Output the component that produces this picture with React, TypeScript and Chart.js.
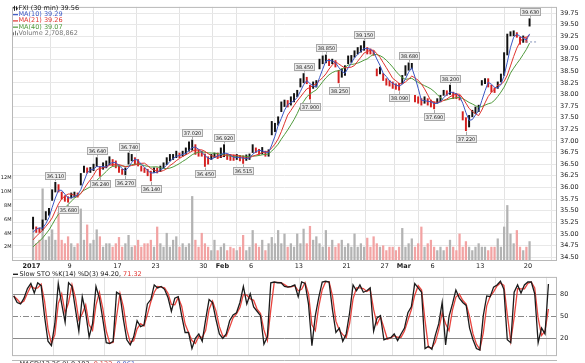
import React, { useEffect, useRef } from "react";
import { Chart, registerables } from "chart.js";

Chart.register(...registerables);

const FONT = '"DejaVu Sans", Verdana, sans-serif';
const BARS_PER_DAY = 3;

// date axis: trading-day index of each labelled day
const tickDays = [0, 4, 9, 13, 18, 20, 23, 28, 33, 37, 39, 42, 47, 52];
const tickLabels = ["2017", "9", "17", "23", "30", "Feb", "6", "13", "21", "27", "Mar", "6", "13", "20"];
const boldLabels = ["2017", "Feb", "Mar"];
const priceTicks = [34.5, 34.75, 35, 35.25, 35.5, 35.75, 36, 36.25, 36.5, 36.75, 37, 37.25, 37.5, 37.75, 38, 38.25, 38.5, 38.75, 39, 39.25, 39.5, 39.75];
const volumeTicks = [2, 4, 6, 8, 10, 12];
const stochTicks = [20, 50, 80];

// late-December midpoints (feed the moving averages at the left edge)
const priorMids = [34.45, 34.5, 34.5, 34.55, 34.6, 34.7, 34.8, 34.9, 34.98];

// price bars (3 per trading day), low / high
const barLow = [
  35.10, 35.03, 35.03, 35.08, 35.30, 35.40, 35.72, 35.90, 35.90, 35.75,
  35.70, 35.68, 35.77, 35.79, 35.79, 36.05, 36.32, 36.31, 36.32, 36.36,
  36.45, 36.24, 36.39, 36.42, 36.49, 36.46, 36.42, 36.32, 36.28, 36.27,
  36.50, 36.57, 36.49, 36.46, 36.35, 36.32, 36.25, 36.14, 36.32, 36.31,
  36.34, 36.42, 36.49, 36.57, 36.60, 36.64, 36.64, 36.67, 36.71, 36.78,
  36.80, 36.71, 36.67, 36.67, 36.45, 36.50, 36.60, 36.64, 36.62, 36.64,
  36.66, 36.60, 36.58, 36.58, 36.60, 36.57, 36.515, 36.58, 36.60, 36.75,
  36.75, 36.71, 36.72, 36.67, 36.67, 37.13, 37.20, 37.34, 37.63, 37.74,
  37.73, 37.77, 37.84, 37.95, 38.16, 38.25, 38.23, 37.90, 38.13, 38.16,
  38.55, 38.66, 38.68, 38.62, 38.66, 38.59, 38.25, 38.37, 38.41, 38.66,
  38.69, 38.80, 38.87, 38.91, 38.95, 38.87, 38.87, 38.84, 38.40, 38.44,
  38.30, 38.20, 38.18, 38.13, 38.11, 38.09, 38.23, 38.41, 38.52, 38.55,
  37.84, 37.81, 37.77, 37.81, 37.77, 37.73, 37.69, 37.81, 37.84, 37.98,
  37.98, 38.00, 37.91, 37.91, 37.88, 37.45, 37.22, 37.30, 37.52, 37.59,
  37.63, 38.20, 38.23, 38.16, 38.05, 38.04, 38.13, 38.27, 38.41, 38.85,
  39.26, 39.26, 39.23, 39.08, 39.12, 39.12, 39.47,
];
const barHigh = [
  35.36, 35.15, 35.12, 35.30, 35.48, 35.55, 35.95, 36.11, 36.06, 35.90,
  35.82, 35.80, 35.88, 35.90, 35.88, 36.30, 36.46, 36.42, 36.43, 36.50,
  36.64, 36.45, 36.53, 36.57, 36.66, 36.60, 36.57, 36.46, 36.39, 36.42,
  36.74, 36.71, 36.64, 36.60, 36.46, 36.42, 36.39, 36.35, 36.42, 36.42,
  36.46, 36.53, 36.64, 36.71, 36.71, 36.78, 36.74, 36.78, 36.85, 36.98,
  37.02, 36.92, 36.81, 36.78, 36.72, 36.66, 36.71, 36.74, 36.74, 36.85,
  36.92, 36.71, 36.71, 36.70, 36.71, 36.69, 36.68, 36.70, 36.72, 36.92,
  36.85, 36.82, 36.86, 36.78, 36.81, 37.42, 37.38, 37.52, 37.84, 37.88,
  37.87, 37.95, 38.02, 38.09, 38.34, 38.45, 38.37, 38.20, 38.27, 38.30,
  38.76, 38.83, 38.85, 38.76, 38.76, 38.73, 38.52, 38.55, 38.62, 38.83,
  38.84, 38.94, 39.01, 39.05, 39.15, 39.01, 38.98, 38.94, 38.55, 38.59,
  38.45, 38.34, 38.30, 38.27, 38.23, 38.24, 38.41, 38.62, 38.68, 38.67,
  37.98, 37.95, 37.91, 37.95, 37.91, 37.88, 37.84, 37.91, 37.98, 38.09,
  38.08, 38.20, 38.05, 38.02, 37.98, 37.63, 37.50, 37.55, 37.66, 37.73,
  37.77, 38.30, 38.34, 38.34, 38.20, 38.14, 38.27, 38.44, 38.90, 39.30,
  39.35, 39.37, 39.33, 39.23, 39.26, 39.22, 39.63,
];

// volume per bar, millions of shares
const volumeM = [
  4.4, 2.5, 3.0, 10.4, 3.0, 3.5, 4.5, 3.0, 7.0, 3.0,
  2.5, 3.5, 2.5, 2.0, 2.5, 7.5, 3.0, 5.2, 2.5, 3.0,
  4.5, 3.5, 2.0, 2.5, 2.5, 2.0, 2.5, 3.4, 2.0, 2.5,
  3.7, 2.0, 2.2, 3.0, 2.0, 2.5, 2.5, 3.0, 2.0, 4.9,
  2.5, 2.0, 4.0, 2.0, 3.0, 3.5, 2.0, 2.5, 2.0, 2.5,
  9.3, 3.0, 2.0, 4.0, 2.5, 2.0, 1.5, 3.0, 1.5, 2.0,
  2.5, 1.5, 2.0, 1.8, 1.5, 2.0, 3.7, 1.5, 2.0, 4.4,
  2.5, 2.0, 3.0, 1.5, 2.5, 3.4, 2.5, 4.4, 2.5, 3.9,
  2.0, 2.5, 2.0, 3.9, 2.5, 4.6, 2.5, 5.0, 3.0, 3.5,
  2.5, 2.0, 4.4, 2.0, 3.0, 2.0, 2.5, 3.0, 2.0, 2.5,
  2.0, 3.9, 2.0, 2.5, 2.0, 3.3, 2.0, 3.5, 2.5, 2.0,
  2.2, 1.5, 2.0, 2.0, 1.5, 2.0, 4.7, 2.0, 2.5, 3.2,
  2.0, 2.5, 4.9, 2.0, 2.5, 3.0, 2.0, 1.5, 2.0, 1.5,
  2.0, 3.0, 2.0, 1.5, 3.9, 2.0, 2.8, 2.0, 1.5, 2.0,
  2.5, 2.0, 2.0, 1.5, 2.0, 2.0, 3.2, 2.0, 4.9, 8.0,
  3.9, 2.5, 4.4, 2.0, 1.5, 2.0, 2.8,
];

// slow stochastic %K per bar
const stochK = [
  78, 69, 67, 75, 88, 95, 82, 96, 92, 50,
  16, 10, 40, 95, 67, 42, 96, 91, 60, 30,
  77, 55, 22, 40, 91, 75, 46, 14, 13, 16,
  83, 80, 46, 18, 11, 22, 44, 36, 38, 67,
  73, 93, 89, 91, 87, 76, 57, 75, 77, 51,
  28, 28, 6, 20, 26, 16, 46, 73, 69, 46,
  26, 20, 26, 44, 52, 55, 69, 91, 67, 81,
  63, 57, 51, 12, 22, 96, 97, 96, 96, 91,
  90, 91, 93, 77, 97, 95, 67, 10, 51, 76,
  97, 98, 97, 59, 28, 34, 16, 26, 55, 93,
  85, 93, 83, 85, 89, 30, 48, 51, 18, 20,
  21, 26, 17, 26, 34, 55, 63, 95, 89, 83,
  6, 9, 5, 24, 40, 69, 11, 50, 67, 86,
  75, 69, 65, 34, 18, 6, 4, 51, 78, 77,
  90, 93, 98, 87, 18, 14, 83, 93, 82, 93,
  97, 97, 81, 14, 34, 26, 94.2,
];

const prevClose = 39.13;

// annotated swing highs / lows
const peakIndex = [7, 11, 20, 21, 29, 30, 37, 50, 54, 60, 66, 85, 87, 92, 96, 104, 115, 118, 126, 131, 136, 156];
const peakText = ["36.110", "35.680", "36.640", "36.240", "36.270", "36.740", "36.140", "37.020", "36.450", "36.920", "36.515", "38.450", "37.900", "38.850", "38.250", "39.150", "38.090", "38.680", "37.690", "38.200", "37.220", "39.630"];
const peakKind = ["hi", "lo", "hi", "lo", "lo", "hi", "lo", "hi", "lo", "hi", "lo", "hi", "lo", "hi", "lo", "hi", "lo", "hi", "lo", "hi", "lo", "hi"];

const legendText = ["FXI (30 min) 39.56", "MA(10) 39.29", "MA(21) 39.26", "MA(40) 39.07", "Volume 2,708,862"];
const stochLegend = ["Slow STO %K(14) %D(3) 94.20, ", "71.32"];
const macdLegend = ["MACD(12,26,9) 0.183, ", "0.122, ", "0.061"];

const BLUE = "#3b57c4";
const RED = "#e0332e";
const GREEN = "#4f9a3c";

function barX(i: number) {
  return Math.floor(i / BARS_PER_DAY) + ((i % BARS_PER_DAY) + 0.5) / BARS_PER_DAY;
}

function movingAverage(values: number[], prior: number[], w: number) {
  const all = prior.concat(values);
  const P = prior.length;
  return values.map((_, i) => {
    let s = 0;
    for (let j = i + P - w + 1; j <= i + P; j++) s += all[j];
    return s / w;
  });
}

const mids = barLow.map((lo, i) => (lo + barHigh[i]) / 2);
const upBar = mids.map((m, i) => m >= (i === 0 ? priorMids[priorMids.length - 1] : mids[i - 1]));

function dateAxis(showLabels: boolean, height: number) {
  return {
    type: "linear" as const,
    min: 0,
    max: 53,
    position: "bottom" as const,
    afterBuildTicks: (s: any) => {
      s.ticks = tickDays.map((v) => ({ value: v }));
    },
    afterFit: (s: any) => {
      s.height = height;
    },
    grid: { color: "#e3e3e3", drawTicks: false, lineWidth: 1 },
    border: { display: false },
    ticks: {
      display: showLabels,
      autoSkip: false,
      maxRotation: 0,
      padding: 1,
      color: "#222",
      font: (ctx: any) => {
        const lbl = ctx.tick ? tickLabels[tickDays.indexOf(ctx.tick.value)] : "";
        return { family: FONT, size: 6.5, weight: boldLabels.includes(lbl) ? "bold" : "normal" };
      },
      callback: (v: any) => {
        const k = tickDays.indexOf(Number(v));
        return k >= 0 ? tickLabels[k] : "";
      },
    },
  };
}

const mainOverlay = {
  id: "mainOverlay",
  afterDatasetsDraw(chart: any) {
    const { ctx, scales } = chart;
    const xs = scales.x;
    const ps = scales.price;
    ctx.save();
    ctx.font = `5px ${FONT}`;
    ctx.textAlign = "center";
    ctx.textBaseline = "middle";
    ctx.lineWidth = 1;
    peakIndex.forEach((idx, k) => {
      const px = xs.getPixelForValue(barX(idx));
      const val = parseFloat(peakText[k]);
      const py = ps.getPixelForValue(val);
      const w = Math.round(ctx.measureText(peakText[k]).width + 3);
      const h = 7;
      const hi = peakKind[k] === "hi";
      const top = Math.round(hi ? py - 3.5 - h : py + 4);
      const left = Math.round(px - w / 2);
      ctx.strokeStyle = "#a8a8a8";
      ctx.beginPath();
      const cx = Math.round(px) + 0.5;
      ctx.moveTo(cx, hi ? top + h : top);
      ctx.lineTo(cx, hi ? py - 1 : py + 1);
      ctx.stroke();
      ctx.fillStyle = "#ededed";
      ctx.fillRect(left + 0.5, top + 0.5, w, h);
      ctx.strokeRect(left + 0.5, top + 0.5, w, h);
      ctx.fillStyle = "#222";
      ctx.fillText(peakText[k], left + 0.5 + w / 2, top + 0.5 + h / 2 + 0.3);
    });
    ctx.restore();
  },
  afterDraw(chart: any) {
    const { ctx, chartArea: a } = chart;
    ctx.save();
    ctx.strokeStyle = "#b8b8b8";
    ctx.lineWidth = 1;
    ctx.strokeRect(a.left + 0.5, a.top + 0.5, a.right - a.left - 1, a.bottom - a.top - 1);
    ctx.font = `6.5px ${FONT}`;
    ctx.textBaseline = "middle";
    ctx.textAlign = "left";
    const colors = ["#222", BLUE, RED, GREEN, "#777"];
    legendText.forEach((t, k) => {
      const y = 8.3 + k * 6.25;
      ctx.fillStyle = colors[k];
      ctx.strokeStyle = colors[k];
      if (k === 0) {
        ctx.fillRect(14, y - 2.5, 1, 5);
        ctx.fillRect(16, y - 2, 1, 4);
        ctx.fillRect(13, y - 1, 1, 1);
        ctx.fillRect(17, y, 1, 1);
      } else if (k === 4) {
        ctx.fillRect(13, y - 1, 1, 3);
        ctx.fillRect(15, y - 2.5, 1, 4.5);
        ctx.fillRect(17, y - 0.5, 1, 2.5);
      } else {
        ctx.fillRect(13, y - 0.5, 5, 1.2);
      }
      ctx.fillText(t, 18.5, y);
    });
    ctx.restore();
  },
};

const stochOverlay = {
  id: "stochOverlay",
  beforeDatasetsDraw(chart: any) {
    const { ctx, chartArea: a, scales } = chart;
    const ys = scales.y;
    ctx.save();
    ctx.lineWidth = 1;
    stochTicks.forEach((v) => {
      const y = Math.round(ys.getPixelForValue(v)) + 0.5;
      ctx.strokeStyle = "#8a8a8a";
      ctx.setLineDash(v === 50 ? [6, 2, 1, 2] : []);
      ctx.beginPath();
      ctx.moveTo(a.left, y);
      ctx.lineTo(a.right, y);
      ctx.stroke();
    });
    ctx.restore();
  },
  afterDraw(chart: any) {
    const { ctx, chartArea: a } = chart;
    ctx.save();
    ctx.strokeStyle = "#b8b8b8";
    ctx.lineWidth = 1;
    ctx.strokeRect(a.left + 0.5, a.top + 0.5, a.right - a.left - 1, a.bottom - a.top - 1);
    ctx.font = `6.5px ${FONT}`;
    ctx.textBaseline = "middle";
    ctx.textAlign = "left";
    const y = 4.2;
    ctx.fillStyle = "#222";
    ctx.fillRect(13, y - 0.6, 5, 1.4);
    ctx.fillText(stochLegend[0], 19.5, y);
    const w0 = ctx.measureText(stochLegend[0]).width;
    ctx.fillStyle = RED;
    ctx.fillText(stochLegend[1], 19.5 + w0, y);
    // next panel (cut off by the picture edge)
    ctx.beginPath();
    ctx.moveTo(a.left, 90.5);
    ctx.lineTo(a.right, 90.5);
    ctx.stroke();
    ctx.textBaseline = "top";
    const yb = 91.2;
    ctx.fillStyle = "#222";
    ctx.fillRect(13, yb + 2.5, 5, 1.4);
    let x = 19.5;
    const mc = ["#222", RED, BLUE];
    macdLegend.forEach((t, k) => {
      ctx.fillStyle = mc[k];
      ctx.fillText(t, x, yb);
      x += ctx.measureText(t).width;
    });
    ctx.restore();
  },
};

function mainConfig(): any {
  const ma10 = movingAverage(mids, priorMids, 3);
  const ma21 = movingAverage(mids, priorMids, 6);
  const ma40 = movingAverage(mids, priorMids, 10);
  const line = (vals: number[], color: string, order: number) => ({
    type: "line",
    data: vals.map((v, i) => ({ x: barX(i), y: v })),
    borderColor: color,
    borderWidth: 1,
    pointRadius: 0,
    tension: 0,
    yAxisID: "price",
    order,
  });
  return {
    type: "bar",
    data: {
      datasets: [
        {
          type: "bar",
          data: volumeM.map((v, i) => ({ x: barX(i), y: v })),
          backgroundColor: upBar.map((u) => (u ? "#b3b3b3" : "#f2a3a3")),
          barThickness: 1.6,
          grouped: false,
          yAxisID: "vol",
          order: 10,
        },
        {
          type: "bar",
          data: barLow.map((lo, i) => ({ x: barX(i), y: [lo, barHigh[i]] })),
          backgroundColor: upBar.map((u) => (u ? "#111111" : "#d42020")),
          barThickness: 1.3,
          grouped: false,
          yAxisID: "price",
          order: 5,
        },
        line(ma40, GREEN, 3),
        line(ma21, RED, 2),
        line(ma10, BLUE, 1),
        {
          type: "line",
          data: [
            { x: 51.8, y: prevClose },
            { x: 53, y: prevClose },
          ],
          borderColor: "#8393b8",
          borderWidth: 1,
          borderDash: [2, 2],
          pointRadius: 0,
          yAxisID: "price",
          order: 0,
        },
      ],
    },
    options: {
      responsive: false,
      maintainAspectRatio: false,
      devicePixelRatio: 1,
      animation: false,
      events: [],
      layout: { padding: { top: 4, left: 0, right: 0, bottom: 0 } },
      plugins: { legend: { display: false }, tooltip: { enabled: false } },
      scales: {
        x: dateAxis(true, 9),
        price: {
          type: "linear",
          position: "right",
          min: 34.416,
          max: 39.884,
          afterBuildTicks: (s: any) => {
            s.ticks = priceTicks.map((v) => ({ value: v }));
          },
          afterFit: (s: any) => {
            s.width = 28;
          },
          grid: { color: "#e8e8e8", drawTicks: false },
          border: { display: false },
          ticks: {
            padding: 3,
            color: "#222",
            font: { family: FONT, size: 6.5 },
            callback: (v: any) => Number(v).toFixed(2),
          },
        },
        vol: {
          type: "linear",
          position: "left",
          min: 0,
          max: 36.6,
          afterBuildTicks: (s: any) => {
            s.ticks = volumeTicks.map((v) => ({ value: v }));
          },
          afterFit: (s: any) => {
            s.width = 12;
          },
          grid: { display: false, drawTicks: false },
          border: { display: false },
          ticks: {
            padding: 0.5,
            color: "#222",
            font: { family: FONT, size: 5 },
            callback: (v: any) => `${v}M`,
          },
        },
      },
    },
    plugins: [mainOverlay],
  };
}

function stochConfig(): any {
  const d = stochK.map((v, i) => (i === 0 ? v : (v + stochK[i - 1]) / 2));
  return {
    type: "line",
    data: {
      datasets: [
        {
          data: stochK.map((v, i) => ({ x: barX(i), y: v })),
          borderColor: "#1b1b1b",
          borderWidth: 1.3,
          pointRadius: 0,
          tension: 0,
          order: 0,
        },
        {
          data: d.map((v, i) => ({ x: barX(i), y: v })),
          borderColor: "#e8443e",
          borderWidth: 1.3,
          pointRadius: 0,
          tension: 0,
          order: 1,
        },
      ],
    },
    options: {
      responsive: false,
      maintainAspectRatio: false,
      devicePixelRatio: 1,
      animation: false,
      events: [],
      layout: { padding: { top: 1, left: 12, right: 0, bottom: 0 } },
      plugins: { legend: { display: false }, tooltip: { enabled: false } },
      scales: {
        x: dateAxis(false, 3.5),
        y: {
          type: "linear",
          position: "right",
          min: -4.3,
          max: 104,
          afterBuildTicks: (s: any) => {
            s.ticks = stochTicks.map((v) => ({ value: v }));
          },
          afterFit: (s: any) => {
            s.width = 28;
          },
          grid: { display: false, drawTicks: false },
          border: { display: false },
          ticks: {
            padding: 3,
            color: "#222",
            font: { family: FONT, size: 6.5 },
            callback: (v: any) => `${v}`,
          },
        },
      },
    },
    plugins: [stochOverlay],
  };
}

export default function App() {
  const mainRef = useRef<HTMLCanvasElement>(null);
  const stoRef = useRef<HTMLCanvasElement>(null);
  useEffect(() => {
    const c1 = new Chart(mainRef.current as HTMLCanvasElement, mainConfig());
    const c2 = new Chart(stoRef.current as HTMLCanvasElement, stochConfig());
    return () => {
      c1.destroy();
      c2.destroy();
    };
  }, []);
  return (
    <div
      style={{
        position: "absolute",
        left: 0,
        top: 0,
        width: 585,
        height: 363,
        background: "#fff",
        overflow: "hidden",
      }}
    >
      <canvas
        ref={mainRef}
        width={585}
        height={270}
        style={{ position: "absolute", left: 0, top: 0, width: 585, height: 270 }}
      />
      <canvas
        ref={stoRef}
        width={585}
        height={93}
        style={{ position: "absolute", left: 0, top: 270, width: 585, height: 93 }}
      />
    </div>
  );
}
